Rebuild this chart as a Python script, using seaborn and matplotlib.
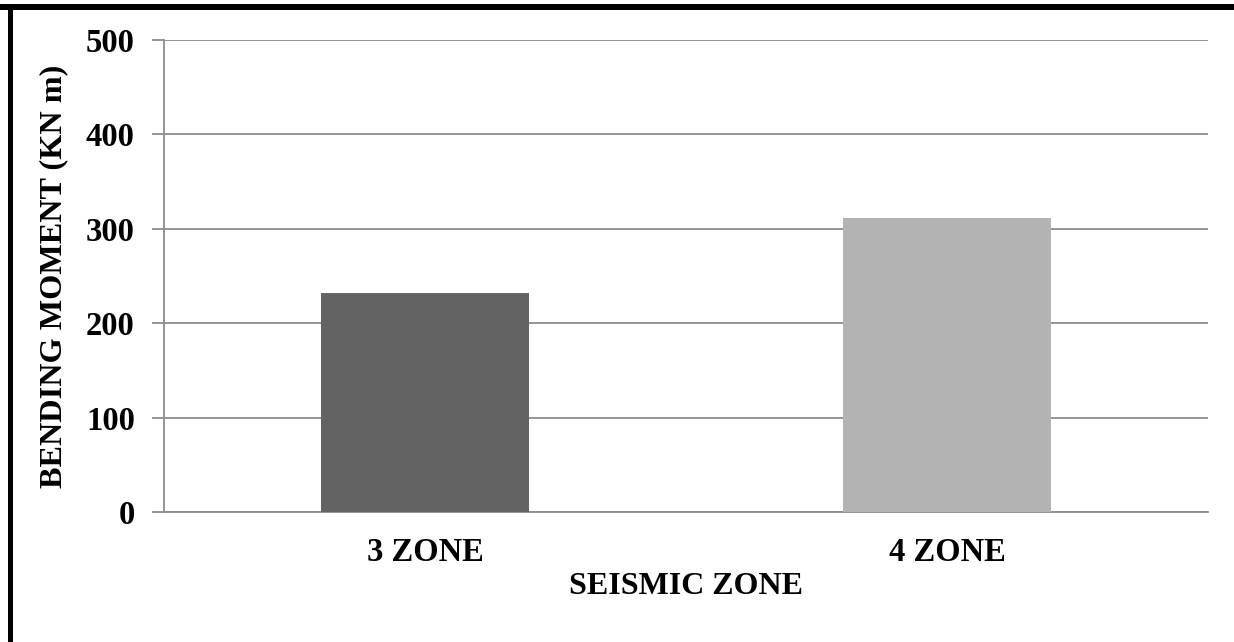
import matplotlib
matplotlib.use("Agg")
import matplotlib.pyplot as plt
from matplotlib.patches import Rectangle
import seaborn as sns
import pandas as pd

zones = ["3 ZONE", "4 ZONE"]
moments = [232, 311]
bar_colors = ["#636363", "#b3b3b3"]
y_ticks = [0, 100, 200, 300, 400, 500]

sns.set_theme(style="white")
plt.rcParams["font.family"] = ["Liberation Serif", "DejaVu Serif"]

df = pd.DataFrame({"zone": zones, "moment": moments})

fig = plt.figure(figsize=(12.34, 6.42), dpi=100)
ax = fig.add_axes([164 / 1234, 1 - 512 / 642, (1208 - 164) / 1234, (512 - 40) / 642])

sns.barplot(data=df, x="zone", y="moment", hue="zone", palette=bar_colors,
            width=0.4, legend=False, ax=ax, zorder=3, saturation=1,
            linewidth=0, edgecolor="none")

grid_col = "#8c8c8c"
ax.set_ylim(0, 500)
ax.set_yticks(y_ticks)
ax.yaxis.grid(True, color=grid_col, linewidth=1.3, zorder=0)
ax.set_axisbelow(True)

for side in ["top", "right"]:
    ax.spines[side].set_visible(False)
ax.spines["left"].set_color(grid_col)
ax.spines["left"].set_linewidth(1.3)
ax.spines["bottom"].set_color(grid_col)
ax.spines["bottom"].set_linewidth(1.3)

ax.tick_params(axis="y", which="major", left=True, length=9, width=1.3,
               color=grid_col, pad=12, labelsize=23.5)
ax.tick_params(axis="x", bottom=False, pad=12, labelsize=23.5)
for lab in ax.get_yticklabels() + ax.get_xticklabels():
    lab.set_fontweight("bold")
    lab.set_color("black")

ax.set_ylabel("BENDING MOMENT (KN m)", fontsize=23.2, fontweight="bold",
              color="black", labelpad=13)
ax.set_xlabel("SEISMIC ZONE", fontsize=23, fontweight="bold",
              color="black", labelpad=3)

# page frame lines around the chart
W, H = 1234, 642
fig.add_artist(Rectangle((0, 1 - 10 / H), 1, 6 / H, transform=fig.transFigure,
                         facecolor="black", edgecolor="none"))
fig.add_artist(Rectangle((8 / W, 0), 5 / W, 1 - 10 / H, transform=fig.transFigure,
                         facecolor="black", edgecolor="none"))

fig.savefig("out.png", dpi=100)
